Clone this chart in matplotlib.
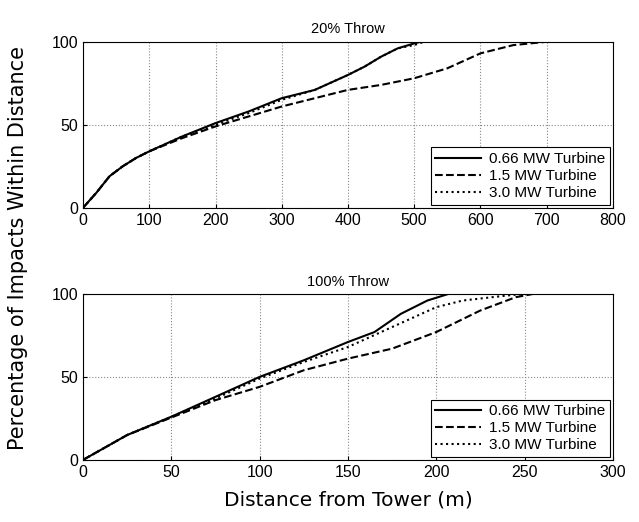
import numpy as np
import matplotlib; matplotlib.use('Agg')
import matplotlib.pyplot as plt

labels = ['0.66 MW Turbine', '1.5 MW Turbine', '3.0 MW Turbine']
styles = ['-', '--', ':']

# 20% throw
x20_066 = [0, 20, 40, 60, 80, 100, 150, 200, 250, 300, 350, 400, 425, 450, 475, 500, 510, 800]
y20_066 = [0, 9, 19, 25, 30, 34, 43, 51, 58, 66, 71, 80, 85, 91, 96, 99, 100, 100]
x20_15 = [0, 20, 40, 60, 80, 100, 150, 200, 250, 300, 350, 400, 450, 500, 550, 600, 650, 700, 800]
y20_15 = [0, 9, 19, 25, 30, 34, 42, 49, 55, 61, 66, 71, 74, 78, 84, 93, 98, 100, 100]
x20_30 = [0, 20, 40, 60, 80, 100, 150, 200, 250, 300, 350, 400, 425, 450, 475, 500, 515, 800]
y20_30 = [0, 9, 19, 25, 30, 34, 43, 50, 57, 65, 71, 80, 85, 91, 96, 98, 100, 100]

# 100% throw
x100_066 = [0, 10, 25, 50, 75, 100, 125, 150, 165, 180, 195, 207, 300]
y100_066 = [0, 6, 15, 26, 38, 50, 60, 71, 77, 88, 96, 100, 100]
x100_15 = [0, 10, 25, 50, 75, 100, 125, 150, 175, 200, 225, 245, 255, 300]
y100_15 = [0, 6, 15, 25.5, 36, 44, 54, 61, 67, 77, 90, 98, 100, 100]
x100_30 = [0, 10, 25, 50, 75, 100, 125, 150, 175, 200, 215, 240, 250, 300]
y100_30 = [0, 6, 15, 26, 37, 49, 59, 68, 80, 92, 96, 99, 100, 100]

fig = plt.figure(figsize=(6.39, 5.22), dpi=100)
ax1 = fig.add_axes([0.130, 0.602, 0.829, 0.318])
ax2 = fig.add_axes([0.130, 0.119, 0.829, 0.318])

panels = [
    (ax1, '20% Throw', [(x20_066, y20_066), (x20_15, y20_15), (x20_30, y20_30)], 800, np.arange(0, 801, 100)),
    (ax2, '100% Throw', [(x100_066, y100_066), (x100_15, y100_15), (x100_30, y100_30)], 300, np.arange(0, 301, 50)),
]
for ax, title, series, xmax, xt in panels:
    for (xs, ys), ls, lb in zip(series, styles, labels):
        ax.plot(xs, ys, ls, color='black', lw=1.5, label=lb)
    ax.set_xlim(0, xmax)
    ax.set_ylim(0, 100)
    ax.set_xticks(xt)
    ax.set_yticks([0, 50, 100])
    ax.grid(True, ls=':', color='#888888', lw=0.8)
    ax.tick_params(direction='in', labelsize=11.5, length=3)
    for t in ax.get_xticklabels() + ax.get_yticklabels():
        t.set_family('Liberation Sans')
    ax.set_title(title, fontsize=10.5, family='Liberation Sans', pad=6)
    leg = ax.legend(loc='lower right', frameon=True, fancybox=False,
                    edgecolor='black', framealpha=1, handlelength=3.0,
                    borderaxespad=0.2, labelspacing=0.2, borderpad=0.3, handletextpad=0.5,
                    prop={'family': 'Liberation Sans', 'size': 11})
    leg.get_frame().set_linewidth(0.8)

ax2.set_xlabel('Distance from Tower (m)', fontsize=14.5, labelpad=8)
fig.text(0.028, 0.525, 'Percentage of Impacts Within Distance', rotation=90,
         ha='center', va='center', fontsize=15)

plt.savefig('out.png', dpi=100)
